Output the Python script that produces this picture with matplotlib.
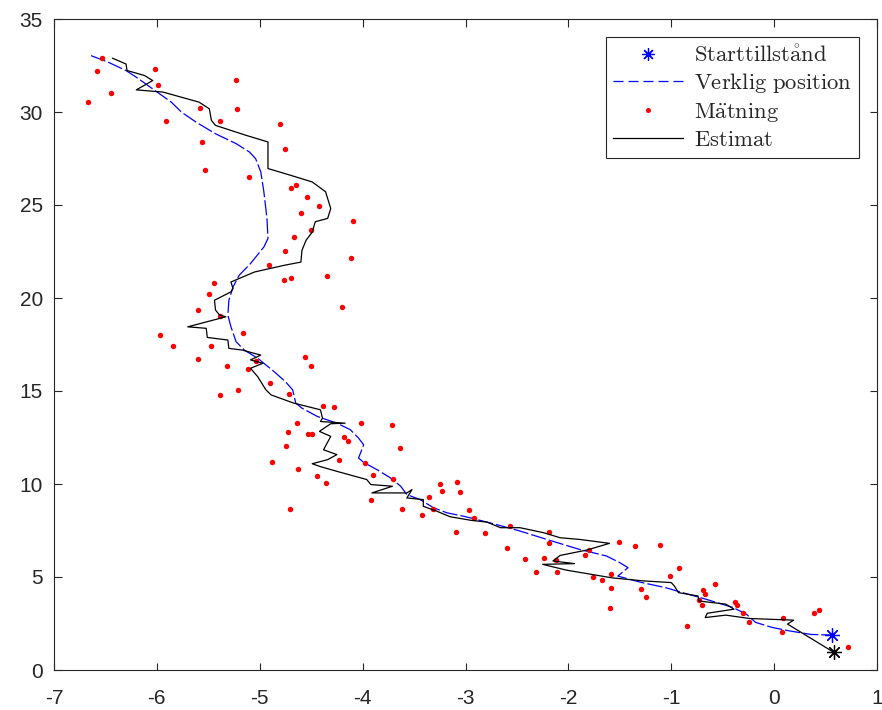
import matplotlib
matplotlib.use("Agg")
import matplotlib.pyplot as plt
from matplotlib.lines import Line2D

plt.rcParams["font.family"] = ["Liberation Sans", "DejaVu Sans"]
plt.rcParams["mathtext.fontset"] = "cm"
plt.rcParams["lines.scale_dashes"] = False

# Starting states
start_true = (0.56, 1.88)
start_est = (0.58, 0.95)

# True position (Verklig position)
true_x = [-6.64, -6.47, -6.30, -6.20, -6.04, -5.86, -5.76, -5.62, -5.43, -5.23, -5.10, -5.04,
          -4.99, -4.96, -4.93, -4.92, -4.96, -5.09, -5.20, -5.26, -5.30, -5.31, -5.28, -5.23,
          -5.15, -5.02, -4.86, -4.75, -4.68, -4.65, -4.59, -4.44, -4.25, -4.12, -4.04, -3.99,
          -4.02, -4.04, -3.99, -3.86, -3.73, -3.63, -3.57, -3.44, -3.31, -3.18, -3.02, -2.79,
          -2.70, -2.47, -2.21, -1.89, -1.63, -1.50, -1.42, -1.52, -1.30, -1.05, -0.89, -0.66,
          -0.40, -0.27, -0.18, -0.02, 0.14, 0.36, 0.56]
true_y = [33.03, 32.67, 32.23, 31.87, 31.24, 30.53, 29.99, 29.46, 28.83, 28.30, 27.85, 27.49,
          26.78, 25.71, 24.28, 23.20, 22.74, 21.85, 21.22, 20.59, 19.88, 19.08, 18.45, 17.65,
          17.20, 16.76, 16.04, 15.50, 15.06, 14.35, 14.08, 13.63, 13.27, 12.92, 12.47, 12.11,
          11.67, 11.40, 11.16, 10.77, 10.33, 9.88, 9.43, 9.16, 8.72, 8.45, 8.27, 7.95,
          7.82, 7.47, 7.02, 6.48, 6.13, 5.77, 5.50, 5.05, 4.72, 4.42, 4.16, 3.80,
          3.36, 3.00, 2.56, 2.29, 2.11, 1.91, 1.88]

# Measurements (Mätning)
meas_x = [-6.53, -6.58, -6.02, -5.23, -5.99, -6.45, -6.67, -5.58, -5.22, -5.39, -5.91, -4.80,
          -5.56, -4.75, -5.53, -5.10, -4.65, -4.70, -4.54, -4.42, -4.60, -4.09, -4.50, -4.67,
          -4.75, -4.11, -4.91, -4.35, -4.76, -4.70, -5.44, -5.49, -4.20, -5.60, -5.39, -5.97,
          -5.16, -5.84, -5.47, -5.60, -5.32, -5.11, -5.04, -4.56, -4.50, -4.90, -5.21, -5.39,
          -4.72, -4.39, -4.28, -4.64, -4.02, -3.71, -4.73, -4.53, -4.49, -4.18, -4.14, -4.74,
          -3.64, -4.88, -4.23, -3.98, -4.63, -4.44, -3.90, -4.36, -3.70, -3.25, -3.08, -3.23,
          -3.05, -3.92, -3.35, -4.71, -3.62, -3.32, -2.97, -3.42, -2.92, -3.09, -2.81, -2.57,
          -2.19, -2.19, -2.60, -2.42, -2.24, -2.12, -1.80, -1.84, -1.51, -1.35, -1.11, -2.31,
          -2.11, -1.76, -1.67, -1.59, -1.59, -1.29, -1.25, -0.92, -1.01, -1.60, -0.57, -0.69,
          -0.67, -0.73, -0.70, -0.38, -0.36, -0.30, -0.24, -0.85, 0.09, 0.08, 0.39, 0.44, 0.72]
meas_y = [32.89, 32.20, 32.33, 31.71, 31.47, 31.01, 30.56, 30.21, 30.14, 29.53, 29.53, 29.35,
          28.39, 27.99, 26.90, 26.49, 26.08, 25.90, 25.42, 24.97, 24.56, 24.13, 23.67, 23.26,
          22.54, 22.13, 21.79, 21.20, 20.97, 21.08, 20.81, 20.22, 19.51, 19.33, 19.02, 17.99,
          18.11, 17.42, 17.42, 16.74, 16.33, 16.18, 16.61, 16.84, 16.35, 15.43, 15.04, 14.81,
          14.86, 14.20, 14.13, 13.27, 13.29, 13.15, 12.79, 12.70, 12.70, 12.54, 12.31, 12.06,
          11.93, 11.20, 11.31, 11.11, 10.83, 10.45, 10.50, 10.06, 10.29, 10.02, 10.11, 9.61,
          9.58, 9.16, 9.29, 8.66, 8.64, 8.64, 8.59, 8.32, 8.18, 7.41, 7.36, 7.73,
          7.43, 6.82, 6.54, 5.99, 6.04, 5.91, 6.43, 6.20, 6.86, 6.66, 6.74, 5.29,
          5.29, 5.00, 4.84, 5.18, 4.39, 4.38, 3.91, 5.48, 5.05, 3.31, 4.64, 4.32,
          4.07, 3.79, 3.48, 3.64, 3.48, 3.09, 2.57, 2.34, 2.82, 2.02, 3.05, 3.25, 1.22]

# Estimate (Estimat)
est_x = [-6.43, -6.30, -6.29, -6.12, -6.04, -6.20, -5.94, -5.59, -5.49, -5.47, -5.43, -5.13,
         -4.92, -4.92, -4.72, -4.49, -4.36, -4.31, -4.34, -4.46, -4.49, -4.55, -4.59, -4.60,
         -4.76, -5.05, -5.28, -5.26, -5.28, -5.44, -5.43, -5.39, -5.33, -5.70, -5.52, -5.51,
         -5.31, -5.30, -5.17, -4.99, -5.09, -4.97, -5.09, -5.02, -4.94, -4.89, -4.67, -4.41,
         -4.39, -4.41, -4.17, -4.31, -4.42, -4.31, -4.38, -4.25, -4.34, -4.49, -4.42, -4.25,
         -3.96, -3.92, -3.71, -3.91, -3.57, -3.52, -3.57, -3.41, -3.41, -3.28, -3.15, -2.95,
         -2.79, -2.66, -2.47, -2.24, -2.08, -1.89, -1.60, -1.82, -2.08, -2.15, -1.94, -2.25,
         -2.02, -1.57, -1.27, -1.00, -0.97, -0.93, -0.74, -0.73, -0.47, -0.39, -0.65, -0.67,
         -0.47, -0.24, 0.19, 0.13, 0.58]
est_y = [32.89, 32.58, 32.23, 31.96, 31.69, 31.19, 31.07, 30.53, 30.17, 29.55, 29.28, 28.74,
         28.39, 26.96, 26.63, 26.24, 25.71, 24.81, 24.28, 24.10, 23.54, 23.10, 22.56, 21.93,
         21.76, 21.40, 20.86, 20.51, 20.33, 19.88, 19.35, 19.08, 18.99, 18.45, 18.37, 17.88,
         17.74, 17.29, 17.20, 16.93, 16.67, 16.49, 16.22, 15.77, 15.06, 14.79, 14.35, 13.99,
         13.54, 13.36, 13.27, 13.24, 12.83, 12.56, 11.84, 11.58, 11.31, 11.09, 10.95, 10.68,
         10.24, 9.97, 9.88, 9.52, 9.52, 9.70, 9.25, 9.16, 8.80, 8.54, 8.24, 8.05,
         7.95, 7.65, 7.65, 7.38, 7.11, 7.02, 6.81, 6.45, 6.16, 5.86, 5.72, 5.68,
         5.37, 4.95, 4.79, 4.70, 4.52, 4.16, 3.98, 3.71, 3.54, 3.27, 3.05, 2.82,
         2.95, 2.77, 2.68, 2.47, 0.95]

labels = [r"$\mathrm{Starttillst\mathring{a}nd}$", r"$\mathrm{Verklig\ position}$",
          r"$\mathrm{M\ddot{a}tning}$", r"$\mathrm{Estimat}$"]
x_ticks = [-7, -6, -5, -4, -3, -2, -1, 0, 1]
y_ticks = [0, 5, 10, 15, 20, 25, 30, 35]

axcol = "#262626"
blue = "#0000ff"
star = (8, 2, 0)

fig = plt.figure(figsize=(8.82, 7.10), dpi=100)
ax = fig.add_axes([54 / 882, 1 - 670 / 710, (877 - 54) / 882, (670 - 19) / 710])

ax.plot([start_true[0]], [start_true[1]], linestyle="none", marker=star, ms=10.5,
        mew=0.9, color=blue, zorder=5)
ax.plot(true_x, true_y, color=blue, lw=0.9, dashes=(11, 2.2), zorder=2)
ax.plot(meas_x, meas_y, linestyle="none", marker="o", ms=3.9, mew=0,
        color="#ff0000", zorder=3)
ax.plot(est_x, est_y, color="black", lw=0.9, zorder=4)
ax.plot([start_est[0]], [start_est[1]], linestyle="none", marker=star, ms=10.5,
        mew=0.9, color="black", zorder=6)

ax.set_xlim(-7, 1)
ax.set_ylim(0, 35)
ax.set_xticks(x_ticks)
ax.set_yticks(y_ticks)
ax.set_xticklabels([str(v) for v in x_ticks])
ax.set_yticklabels([str(v) for v in y_ticks])

for s in ax.spines.values():
    s.set_color(axcol)
    s.set_linewidth(0.8)
ax.tick_params(axis="both", direction="in", length=5.4, width=0.8, color=axcol,
               labelcolor=axcol, labelsize=15, top=True, right=True)
ax.tick_params(axis="x", pad=14)
ax.tick_params(axis="y", pad=8)

# legend handles (styles matching the plotted series)
h1 = Line2D([], [], linestyle="none", marker=star, ms=9, mew=0.9, color=blue)
h2 = Line2D([], [], color=blue, lw=0.9, dashes=(7.2, 3.6))
h3 = Line2D([], [], linestyle="none", marker="o", ms=3.6, mew=0, color="#ff0000")
h4 = Line2D([], [], color="black", lw=0.9)

leg = ax.legend([h1, h2, h3, h4], labels, loc="upper right",
                bbox_to_anchor=(859 / 882, 1 - 37 / 710), bbox_transform=fig.transFigure,
                borderaxespad=0, fontsize=16.3, handlelength=3.1, handletextpad=0.5,
                borderpad=0.3, labelspacing=0.2, fancybox=False, framealpha=1,
                edgecolor=axcol)
leg.get_frame().set_linewidth(0.8)
for t in leg.get_texts():
    t.set_color(axcol)

fig.savefig("out.png", dpi=100)
